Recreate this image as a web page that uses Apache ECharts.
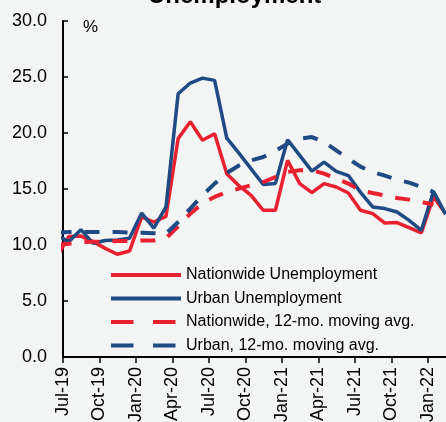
<!DOCTYPE html>
<html>
<head>
<meta charset="utf-8">
<script src="https://cdn.jsdelivr.net/npm/echarts@6/dist/echarts.min.js"></script>
<style>
html,body{margin:0;padding:0;background:#f3f4f4;}
#chart{width:446px;height:422px;}
</style>
</head>
<body>
<div id="chart"></div>
<script>
// Monthly observations, Jun-19 .. Feb-22 (Jun-19 lies just left of the axis and is clipped)
const months = ['Jun-19','Jul-19','Aug-19','Sep-19','Oct-19','Nov-19','Dec-19','Jan-20','Feb-20','Mar-20','Apr-20','May-20','Jun-20','Jul-20','Aug-20','Sep-20','Oct-20','Nov-20','Dec-20','Jan-21','Feb-21','Mar-21','Apr-21','May-21','Jun-21','Jul-21','Aug-21','Sep-21','Oct-21','Nov-21','Dec-21','Jan-22','Feb-22'];
const nationwide = [8.9,10.75,10.8,10.3,9.7,9.17,9.46,12.5,12.05,12.56,19.5,21.0,19.35,19.94,16.37,15.3,14.43,13.1,13.1,17.56,15.48,14.67,15.48,15.18,14.64,13.1,12.8,11.96,12.0,11.55,11.07,14.3,12.8];
const urban = [10.9,10.3,11.37,10.15,10.4,10.45,10.6,12.85,11.5,13.4,23.5,24.46,24.9,24.7,19.55,18.2,16.8,15.4,15.5,19.4,18.0,16.6,17.4,16.58,16.2,14.7,13.4,13.25,12.95,12.2,11.3,14.8,12.74];
const nationwideAvg = [10.0,10.12,10.25,10.3,10.3,10.35,10.35,10.4,10.4,10.6,11.67,12.8,13.7,14.29,14.73,15.03,15.33,15.62,16.07,16.52,16.67,16.67,16.37,15.92,15.48,14.88,14.64,14.43,14.2,14.05,13.84,13.6,null];
const urbanAvg = [11.1,11.15,11.15,11.15,11.15,11.15,11.1,11.1,11.05,11.0,12.05,13.25,14.43,15.48,16.43,17.1,17.56,17.86,18.4,19.05,19.5,19.64,19.2,18.45,17.7,17.0,16.5,16.2,15.83,15.57,15.18,14.73,null];
const tickLabels = ['Jul-19','Oct-19','Jan-20','Apr-20','Jul-20','Oct-20','Jan-21','Apr-21','Jul-21','Oct-21','Jan-22'];
const seriesNames = ['Nationwide Unemployment','Urban Unemployment','Nationwide, 12-mo. moving avg.','Urban, 12-mo. moving avg.'];

const RED = '#e8202f', BLUE = '#1f4a84';
const FONT = 'Liberation Sans, Arial, sans-serif';
const DASH = [15, 13];
const LEGEND_DASH = [22.5, 19.5];
// x position: months since Jul-19, observation plotted at mid-month
const toPoints = arr => arr.map((v, i) => [i - 1 + 0.47, v]);

const chart = echarts.init(document.getElementById('chart'), null, {renderer: 'canvas'});
chart.setOption({
  animation: false,
  backgroundColor: '#f3f4f4',
  textStyle: {fontFamily: FONT},
  title: {
    text: 'Unemployment', left: 143, top: -21,
    textStyle: {fontSize: 24, fontWeight: 'bold', color: '#000', fontFamily: FONT}
  },
  grid: {left: 63, top: 21, right: 0, height: 336, containLabel: false, outerBoundsMode: 'none'},
  legend: {
    data: [
      {name: seriesNames[0], lineStyle: {width: 4, type: 'solid'}},
      {name: seriesNames[1], lineStyle: {width: 4, type: 'solid'}},
      {name: seriesNames[2], lineStyle: {width: 4, type: LEGEND_DASH}},
      {name: seriesNames[3], lineStyle: {width: 4, type: LEGEND_DASH}}
    ],
    orient: 'vertical', left: 104, top: 262,
    itemWidth: 70, itemHeight: 14, itemGap: 7.5,
    itemStyle: {opacity: 0},
    lineStyle: {width: 4},
    textStyle: {fontSize: 16, color: '#000', fontFamily: FONT}
  },
  xAxis: {
    type: 'value', min: 0, max: 31.5, interval: 3,
    axisLine: {show: true, lineStyle: {color: '#000', width: 2}},
    axisTick: {show: true, inside: false, length: 6, lineStyle: {color: '#000', width: 1.5}},
    axisLabel: {rotate: 90, fontSize: 18, color: '#000', margin: 10, fontFamily: FONT,
      showMaxLabel: false,
      formatter: v => tickLabels[Math.round(v / 3)] || ''},
    splitLine: {show: false}
  },
  yAxis: {
    type: 'value', min: 0, max: 30, interval: 5,
    name: '%', nameLocation: 'end', nameGap: -15,
    nameTextStyle: {fontSize: 17, color: '#000', align: 'left', verticalAlign: 'bottom', padding: [0, 0, 0, 20], fontFamily: FONT},
    axisLine: {show: true, lineStyle: {color: '#000', width: 2}},
    axisTick: {show: true, inside: true, length: 5, lineStyle: {color: '#000', width: 1.5}},
    axisLabel: {fontSize: 18, color: '#000', margin: 16, fontFamily: FONT, formatter: v => v.toFixed(1)},
    splitLine: {show: false}
  },
  series: [
    {name: seriesNames[0], type: 'line', data: toPoints(nationwide), symbol: 'none', clip: true,
     lineStyle: {color: RED, width: 3.5}, itemStyle: {color: RED}},
    {name: seriesNames[1], type: 'line', data: toPoints(urban), symbol: 'none', clip: true,
     lineStyle: {color: BLUE, width: 3.5}, itemStyle: {color: BLUE}},
    {name: seriesNames[2], type: 'line', data: toPoints(nationwideAvg), symbol: 'none', clip: true,
     lineStyle: {color: RED, width: 4, type: DASH}, itemStyle: {color: RED}},
    {name: seriesNames[3], type: 'line', data: toPoints(urbanAvg), symbol: 'none', clip: true,
     lineStyle: {color: BLUE, width: 4, type: DASH}, itemStyle: {color: BLUE}}
  ]
});
</script>
</body>
</html>
